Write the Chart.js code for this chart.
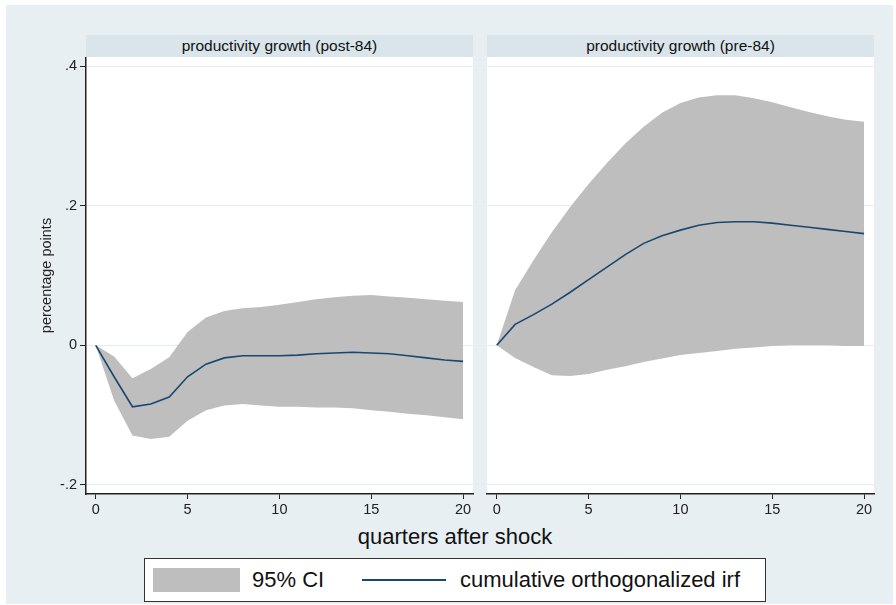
<!DOCTYPE html>
<html>
<head>
<meta charset="utf-8">
<script src="https://cdn.jsdelivr.net/npm/chart.js@4/dist/chart.umd.min.js"></script>
<style>
  html, body { margin: 0; padding: 0; background: #ffffff; }
  body { width: 896px; height: 605px; position: relative; overflow: hidden;
         font-family: "Liberation Sans", Arial, Helvetica, sans-serif; }
  #region { position: absolute; left: 6px; top: 5px; width: 887px; height: 599px; background: #e8eff2; }
  .strip { position: absolute; top: 35px; height: 22px; background: #d9e5eb; color: #111;
           font-size: 15.5px; line-height: 22px; text-align: center; white-space: nowrap; }
  .panel { position: absolute; }
  #xtitle { position: absolute; left: 255px; width: 400px; top: 524px; text-align: center;
            font-size: 22px; line-height: 26px; color: #111; }
  #legend { position: absolute; left: 144px; top: 558px; width: 620px; height: 42px;
            background: #fff; border: 1px solid #333; }
  .swatch { position: absolute; left: 8px; top: 9px; width: 87px; height: 24px; background: #bebebe; }
  .lg-line { position: absolute; left: 217px; top: 20px; width: 84px; height: 2px; background: #1a476f; }
  .lg-text { position: absolute; top: 8px; font-size: 22px; line-height: 26px; color: #111; white-space: nowrap; }
</style>
</head>
<body>
<div id="region"></div>

<div class="strip" style="left:86px;width:387px;" id="title1"></div>
<div class="strip" style="left:487px;width:387px;" id="title2"></div>

<div class="panel" style="left:36px;top:57px;width:440px;height:467px;"><canvas id="post84"></canvas></div>
<div class="panel" style="left:484px;top:57px;width:393px;height:467px;"><canvas id="pre84"></canvas></div>

<div id="xtitle"></div>

<div id="legend">
  <div class="swatch"></div>
  <div class="lg-text" id="lgBand" style="left:107px;"></div>
  <div class="lg-line"></div>
  <div class="lg-text" id="lgLine" style="left:315px;"></div>
</div>

<script>
// Horizon (quarters after the shock)
const quarters = [0, 1, 2, 3, 4, 5, 6, 7, 8, 9, 10, 11, 12, 13, 14, 15, 16, 17, 18, 19, 20];

// Post-1984 sample: cumulative orthogonalized IRF and its 95% band
const post84Irf   = [0, -0.045, -0.088, -0.084, -0.074, -0.045, -0.027, -0.018, -0.015, -0.015, -0.015,
                     -0.014, -0.012, -0.011, -0.010, -0.011, -0.012, -0.015, -0.018, -0.021, -0.023];
const post84Upper = [0, -0.016, -0.047, -0.034, -0.017, 0.019, 0.040, 0.049, 0.053, 0.055, 0.058,
                     0.062, 0.066, 0.069, 0.071, 0.072, 0.070, 0.068, 0.066, 0.064, 0.062];
const post84Lower = [0, -0.079, -0.129, -0.134, -0.131, -0.108, -0.093, -0.086, -0.084, -0.086, -0.088,
                     -0.088, -0.089, -0.089, -0.090, -0.093, -0.095, -0.098, -0.100, -0.103, -0.106];

// Pre-1984 sample
const pre84Irf    = [0, 0.030, 0.044, 0.059, 0.076, 0.094, 0.112, 0.130, 0.146, 0.157, 0.165,
                     0.172, 0.176, 0.177, 0.177, 0.175, 0.172, 0.169, 0.166, 0.163, 0.160];
const pre84Upper  = [0, 0.079, 0.122, 0.162, 0.198, 0.231, 0.261, 0.289, 0.313, 0.333, 0.347,
                     0.355, 0.358, 0.358, 0.354, 0.348, 0.341, 0.334, 0.328, 0.323, 0.320];
const pre84Lower  = [0, -0.018, -0.031, -0.043, -0.044, -0.041, -0.035, -0.030, -0.024, -0.019, -0.014,
                     -0.011, -0.008, -0.005, -0.003, -0.001, 0.000, 0.000, 0.000, -0.001, -0.001];

// Axis ticks
const xTickValues = [0, 5, 10, 15, 20];
const yTickValues = [-0.2, 0, 0.2, 0.4];
const yTickLabels = ['-.2', '0', '.2', '.4'];

// Text
const panelTitles = ['productivity growth (post-84)', 'productivity growth (pre-84)'];
const yAxisTitle = 'percentage points';
const xAxisTitle = 'quarters after shock';
const bandLabel = '95% CI';
const lineLabel = 'cumulative orthogonalized irf';

document.getElementById('title1').textContent = panelTitles[0];
document.getElementById('title2').textContent = panelTitles[1];
document.getElementById('xtitle').textContent = xAxisTitle;
document.getElementById('lgBand').textContent = bandLabel;
document.getElementById('lgLine').textContent = lineLabel;

const FONT = '"Liberation Sans", Arial, Helvetica, sans-serif';
const INK = '#222222';
const LINE = '#1a476f';
const BAND = '#bebebe';
const GRID = '#e4edf0';

const pts = (ys) => quarters.map((q, i) => ({ x: q, y: ys[i] }));

// white plot region behind the data
const plotBg = {
  id: 'plotBg',
  beforeDraw(chart) {
    const { ctx, chartArea: a } = chart;
    ctx.save();
    ctx.fillStyle = '#ffffff';
    ctx.fillRect(a.left, a.top, a.right - a.left, a.bottom - a.top);
    ctx.restore();
  }
};

function makePanel(id, irf, upper, lower, showY) {
  const yLabel = (v) => {
    const i = yTickValues.findIndex(t => Math.abs(t - v) < 1e-9);
    return i >= 0 ? yTickLabels[i] : '';
  };
  return new Chart(document.getElementById(id), {
    type: 'line',
    data: {
      datasets: [
        { label: lineLabel, data: pts(irf), borderColor: LINE, borderWidth: 1.6,
          pointRadius: 0, fill: false, tension: 0, order: 0 },
        { label: bandLabel, data: pts(upper), borderWidth: 0, borderColor: BAND,
          backgroundColor: BAND, pointRadius: 0, fill: '+1', tension: 0, order: 1 },
        { label: 'lower', data: pts(lower), borderWidth: 0, borderColor: BAND,
          pointRadius: 0, fill: false, tension: 0, order: 2 }
      ]
    },
    options: {
      responsive: true,
      maintainAspectRatio: false,
      animation: false,
      events: [],
      layout: { padding: { left: showY ? 0 : 3, right: 3, top: 0, bottom: 0 } },
      plugins: { legend: { display: false }, tooltip: { enabled: false }, title: { display: false } },
      scales: {
        x: {
          type: 'linear', min: -0.53, max: 20.54,
          afterBuildTicks: (s) => { s.ticks = xTickValues.map(v => ({ value: v })); },
          afterFit: (s) => { s.height = 30; s.paddingLeft = 0; s.paddingRight = 0; },
          grid: { display: true, drawOnChartArea: false, drawTicks: true, tickLength: 5,
                  tickColor: INK, tickWidth: 1 },
          border: { display: true, color: INK, width: 1.5 },
          ticks: { color: INK, padding: 2, maxRotation: 0, autoSkip: false,
                   font: { family: FONT, size: 14.5 }, callback: (v) => String(v) }
        },
        y: {
          type: 'linear', min: -0.2129, max: 0.4129,
          afterBuildTicks: (s) => { s.ticks = yTickValues.map(v => ({ value: v })); },
          afterFit: (s) => { s.width = showY ? 50 : 0; s.paddingTop = 0; s.paddingBottom = 0; },
          grid: { display: true, color: GRID, lineWidth: 1, drawTicks: showY, tickLength: 6,
                  tickColor: INK, tickWidth: 1 },
          border: { display: showY, color: INK, width: 1.5 },
          title: { display: showY, text: yAxisTitle, color: INK, padding: { top: 2, bottom: 0 },
                   font: { family: FONT, size: 14.5 } },
          ticks: { display: showY, color: INK, padding: 3, autoSkip: false,
                   font: { family: FONT, size: 14.5 }, callback: yLabel }
        }
      }
    },
    plugins: [plotBg]
  });
}

makePanel('post84', post84Irf, post84Upper, post84Lower, true);
makePanel('pre84', pre84Irf, pre84Upper, pre84Lower, false);
</script>
</body>
</html>
